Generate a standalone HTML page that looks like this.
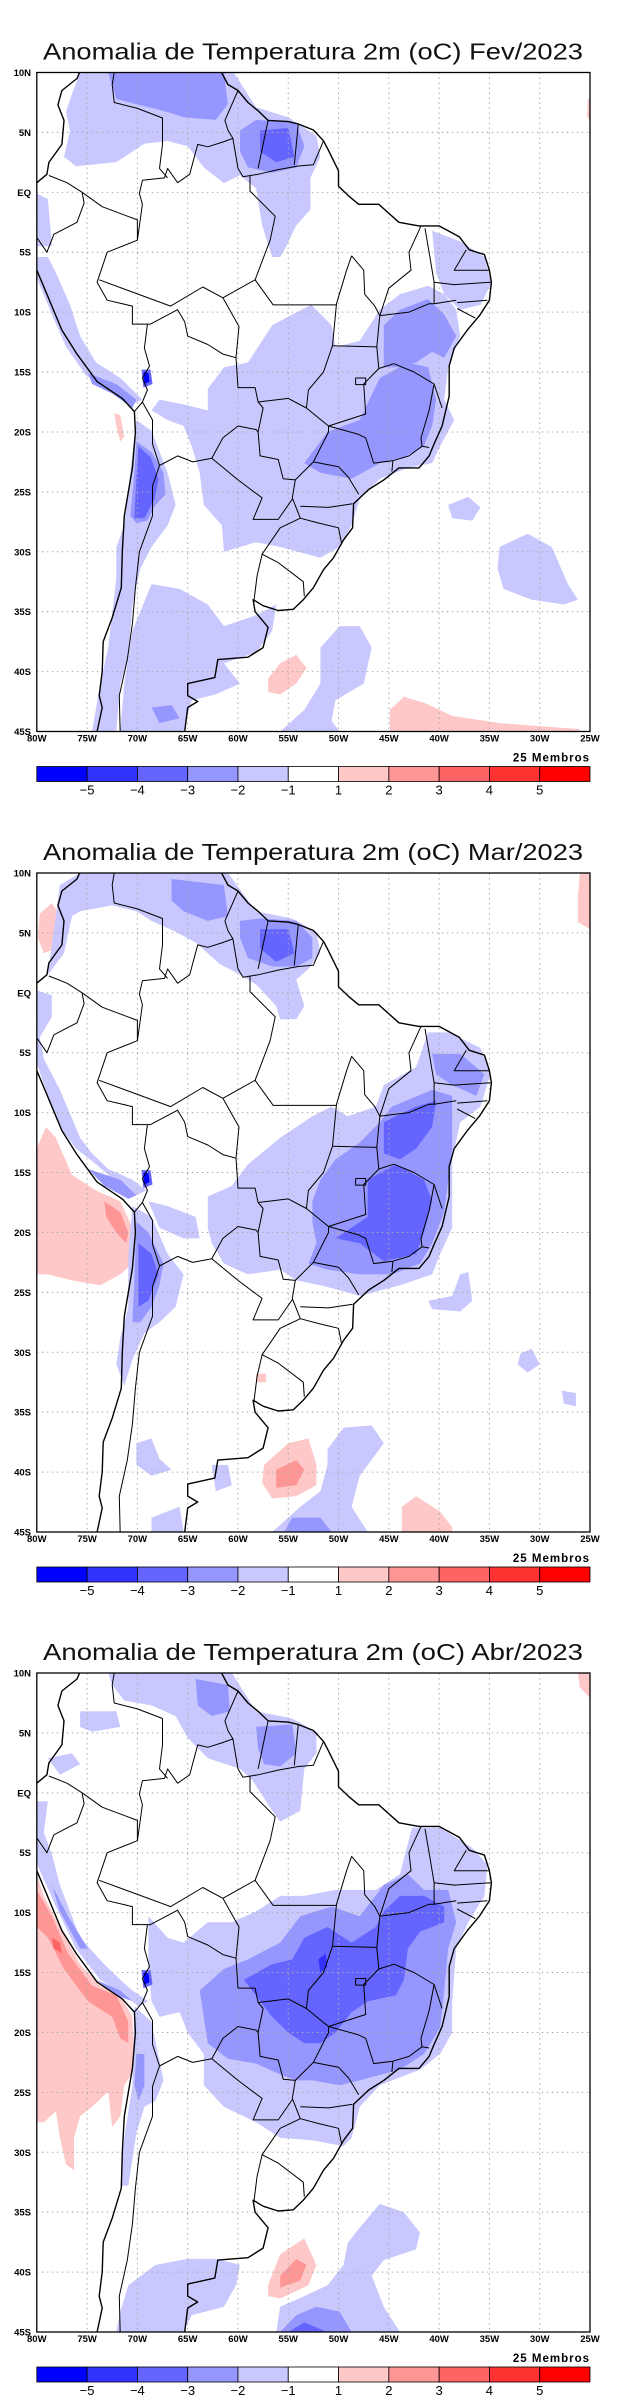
<!DOCTYPE html>
<html><head><meta charset="utf-8"><style>
html,body{margin:0;padding:0;background:#fff;}
svg{display:block;font-family:"Liberation Sans",sans-serif;}
</style></head><body>
<svg id="s" width="618" height="2400" viewBox="0 0 618 2400" xmlns="http://www.w3.org/2000/svg"></svg>
<script>
// ---------- data (lon/lat) ----------
const panelTitles = ["Anomalia de Temperatura 2m (oC) Fev/2023","Anomalia de Temperatura 2m (oC) Mar/2023","Anomalia de Temperatura 2m (oC) Abr/2023"];
const latTicks = [10,5,0,-5,-10,-15,-20,-25,-30,-35,-40,-45];
const latLabels = ["10N","5N","EQ","5S","10S","15S","20S","25S","30S","35S","40S","45S"];
const lonTicks = [-80,-75,-70,-65,-60,-55,-50,-45,-40,-35,-30,-25];
const lonLabels = ["80W","75W","70W","65W","60W","55W","50W","45W","40W","35W","30W","25W"];
const levelColors = ["#0000ff","#3232ff","#6464ff","#9696ff","#c8c8ff","#ffffff","#ffc8c8","#ff9696","#ff6464","#ff3232","#ff0000"];
const levelLabels = ["-5","-4","-3","-2","-1","1","2","3","4","5"];

const coast = [[-77.5,8.5],[-76,9.5],[-75.5,10.5],[-72,11.8],[-71,11],[-68,10.6],[-64,10.6],[-62,10.6],[-61,9],[-60,8.5],[-59,7.5],[-58,6.8],[-57,6],[-55,5.9],[-54,5.7],[-52.5,5.2],[-51.5,4.3],[-51,3.5],[-50,1.8],[-50,0.5],[-49,-0.3],[-48,-1],[-46,-1],[-44,-2.5],[-42,-2.8],[-40,-2.8],[-38,-3.7],[-37,-4.8],[-35.5,-5.2],[-35,-6.5],[-34.8,-7.5],[-35,-9],[-36,-10.3],[-37.2,-11.5],[-38.5,-13],[-39,-14.5],[-39,-17],[-39.7,-19.5],[-40.5,-21],[-41,-22],[-42,-23],[-44,-23],[-45.5,-24],[-47,-24.8],[-48.5,-26],[-48.6,-28],[-49.5,-29],[-50.5,-30.5],[-51.5,-31.5],[-52.5,-33],[-53.5,-34],[-54.5,-34.8],[-56,-34.9],[-57.5,-34.5],[-58.5,-34],[-58.3,-35],[-57,-36.3],[-57.5,-38],[-59,-38.8],[-62,-39],[-62.3,-40.5],[-65,-41],[-65,-42],[-64,-42.5],[-65,-43],[-65.3,-45],[-66,-46],[-73.5,-46],[-74,-45],[-73.5,-43],[-73.8,-42],[-73.5,-40],[-73.4,-37.5],[-72.5,-35.5],[-71.6,-33],[-71.5,-30],[-71.3,-27],[-70.5,-23],[-70.2,-20],[-70.3,-18.3],[-71.5,-17.2],[-74,-15.8],[-76,-13.5],[-77.5,-11.5],[-79,-8.5],[-80,-6.5],[-81,-5],[-80.5,-3],[-80,-2],[-80.8,-1],[-80,0.8],[-79,1.5],[-78.8,2.5],[-77.5,4],[-77.3,6],[-77.9,7.3],[-77.5,8.5]];
const borders = [
 [[-51.5,4.3],[-52.5,2.3],[-54,2.2],[-56,1.9],[-58,1.5],[-59.5,1.3],[-60,2],[-60.5,4.5],[-61.5,4.2],[-63,3.8],[-64,4],[-64.8,1.5],[-66,0.8],[-67,2],[-67.3,1.2],[-69.5,1],[-69.8,-0.1],[-69.5,-1],[-70,-4],[-73,-5],[-74,-7.5],[-73,-9],[-70.5,-9.5],[-70.5,-11],[-69.5,-11],[-68.7,-11],[-66,-9.8],[-65.3,-10.8],[-65,-12],[-63,-12.7],[-61.5,-13.5],[-60.2,-13.8],[-60,-16.3],[-58.3,-16.3],[-58,-17.5],[-57.5,-18],[-58,-20],[-57.8,-22],[-56,-22.3],[-55.5,-23.9],[-54.3,-24],[-54.6,-25.5],[-53.8,-27.2],[-55.8,-28],[-57.6,-30.2],[-56,-30.9],[-53.5,-32.5],[-53.4,-33.7]],
 [[-72,11.5],[-72.5,9],[-72.3,7.5],[-70,7],[-67.5,6.2],[-67.5,4],[-67.8,2],[-67,1.2]],
 [[-78.8,1.4],[-77,0.8],[-75.5,0],[-73.5,-1.2],[-70,-2.3],[-70,-4]],
 [[-80.3,-3.4],[-79,-5],[-78.3,-3.5],[-76,-2.5],[-75.3,-0.9],[-75.5,0]],
 [[-60,8.5],[-61.3,6],[-61,5.2],[-60.5,4.5]],[[-57,6],[-58,2]],[[-54,5.7],[-54.4,2.3]],
 [[-69,-11],[-69.3,-13],[-68.8,-14.5],[-69.5,-15.5],[-69,-16.5],[-69.5,-17.5],[-70.3,-18.3]],
 [[-69.5,-17.5],[-68.5,-19],[-68.5,-21],[-67.8,-22.8],[-66,-22],[-64.5,-22.5],[-62.6,-22.2],[-61.5,-20.5],[-60,-19.5],[-58.2,-19.8],[-58,-20]],
 [[-62.6,-22.2],[-60,-24],[-57.6,-25.5],[-58.5,-27.3],[-56,-27.3],[-54.6,-25.6]],
 [[-67.8,-22.8],[-68.5,-24.5],[-68.5,-27],[-69.8,-30],[-70.2,-33],[-70.5,-36],[-71,-39],[-71.8,-42],[-71.7,-45.5]],
 [[-57.6,-30.2],[-58.1,-32],[-58.4,-34]],
 [[-58.8,1.4],[-58.8,0.1],[-56.3,-2],[-56.8,-4],[-58.3,-7.3],[-61.5,-8.8],[-63.5,-7.9],[-66.7,-9.5],[-73.8,-7.3]],
 [[-58.3,-7.3],[-56.5,-9.4],[-50.2,-9.4]],
 [[-48.7,-5.3],[-49.2,-6.5],[-50.2,-9.3],[-50.6,-12.8],[-51.5,-15],[-53,-16.5],[-53.2,-18],[-51,-19.5]],
 [[-48.7,-5.3],[-47.5,-6.5],[-47.4,-8.5],[-46.4,-9.5],[-45.9,-10.3],[-46.2,-12.9],[-50.6,-12.8]],
 [[-41.8,-2.8],[-43,-5],[-42.8,-6.5],[-45,-8],[-45.9,-10.3]],
 [[-61.5,-8.8],[-59.9,-11.2],[-60.2,-13.8]],
 [[-58,-17.5],[-55,-17.2],[-53.2,-18]],
 [[-46.2,-12.9],[-46,-14.7],[-47.5,-16],[-47.3,-18.5],[-51,-19.5],[-51,-20],[-52.5,-22.5],[-54.3,-24]],
 [[-45.9,-10.3],[-43,-10],[-41,-9.3],[-40.5,-9.3]],[[-41.4,-3],[-41,-5],[-40.5,-7.5],[-40.5,-9.3],[-38.3,-9]],
 [[-37.3,-4.8],[-38.5,-6.5],[-35,-6.5]],[[-40.5,-7.5],[-38.5,-7.7],[-34.9,-7.5]],[[-38.2,-9.2],[-35.2,-9]],[[-38.2,-9.7],[-36.4,-10.5]],
 [[-46,-14.7],[-44.5,-14.3],[-42.5,-15],[-40.5,-16],[-39.7,-18]],[[-40.5,-16],[-41,-18.2],[-41.8,-20.5],[-41.7,-21.2],[-41,-21.3]],
 [[-41.7,-21.2],[-43,-22],[-44.6,-22.4],[-46.5,-22.6],[-47.3,-20.5],[-48,-20.2],[-51,-19.5]],[[-44.6,-22.4],[-44.7,-23.3]],
 [[-52.5,-22.5],[-50,-22.9],[-49,-23.8],[-48,-25.2]],[[-53.8,-26.2],[-51,-26.3],[-48.6,-26]],[[-53.8,-27.2],[-52,-27.6],[-50,-28],[-49.7,-29.3]],
 [[-48.3,-15.5],[-47.3,-15.5],[-47.3,-16.05],[-48.3,-16.05],[-48.3,-15.5]]
];
const bolDotOuter = [[-69.6,-14.8],[-68.7,-14.8],[-68.5,-16],[-69.4,-16.3]];
const bolDotInner = [[-69.4,-15.0],[-68.9,-15.0],[-68.8,-15.8],[-69.3,-16.0]];

// each contour: [levelIndex, [[lon,lat],...]]
const fev = [
 [4,[[-75.7,10],[-60.4,10],[-58.2,7.1],[-55,6.26],[-52.2,4.72],[-51.8,2.96],[-52.8,1.2],[-52.8,-1.44],[-54.2,-2.76],[-55.2,-4.52],[-55.8,-5.4],[-56.6,-5.4],[-57.6,-2.76],[-58.2,0.32],[-59.8,1.42],[-61.4,0.76],[-63.4,2.08],[-65,3.84],[-67,4.28],[-69.3,4.06],[-72.1,2.52],[-76.1,2.17],[-77.3,2.96],[-76.7,5.16],[-77.1,6.7],[-76.5,8.24]]],
 [4,[[-80,-5.4],[-80,-7.16],[-78.5,-10.2],[-77.1,-12.9],[-75.1,-15.3],[-72.5,-16.6],[-70.5,-17.7],[-69.5,-17.3],[-71.7,-15.5],[-74.1,-14.2],[-75.7,-12],[-76.7,-9.4],[-78.1,-6.7],[-78.9,-5.4]]],
 [4,[[-80,-0.1],[-78.9,-0.56],[-78.5,-4.5],[-80,-4.5]]],
 [4,[[-70.1,-19],[-68.6,-19.9],[-67,-23.4],[-66.2,-26.1],[-67,-27.8],[-68.6,-29.6],[-69.7,-31.4],[-70.5,-34.4],[-70.9,-38.8],[-71.7,-41],[-72.1,-45],[-74.5,-45],[-73.7,-41],[-72.9,-38],[-72.1,-32.2],[-72.1,-29.6],[-71.3,-27.8],[-70.7,-23.4]]],
 [4,[[-70.5,-36.6],[-68.6,-32.7],[-65.8,-33.1],[-63,-34.4],[-61.4,-36.2],[-58.2,-35.3],[-56.2,-34.4],[-56.6,-36.6],[-58.2,-38.4],[-61.4,-39.3],[-59.8,-41],[-62.2,-41.9],[-64.6,-42.4],[-65.4,-45],[-71.7,-45],[-71.3,-41]]],
 [4,[[-63,-16.4],[-61.4,-14.6],[-59,-14.2],[-56.6,-11.1],[-54.6,-10.2],[-52.7,-9.4],[-50.7,-11.1],[-50.3,-12.9],[-47.9,-12.4],[-45.9,-9.8],[-43.9,-8.5],[-41.1,-7.8],[-39.5,-8.5],[-38.3,-9.8],[-37.9,-12],[-39.1,-14.6],[-39.5,-17.3],[-38.5,-19],[-39.9,-21.2],[-40.7,-22.6],[-43.1,-23],[-45.9,-23.9],[-47.9,-25.6],[-48.7,-27.8],[-49.9,-29.6],[-51.8,-30.5],[-55.8,-29.6],[-58.2,-29.2],[-61.4,-30],[-61.6,-27.8],[-63.4,-26.1],[-63.8,-23.4],[-64.6,-21.2],[-65.4,-19.5],[-67,-19],[-68.6,-18.2],[-67.8,-17.3],[-65.4,-17.7],[-63,-18.2]]],
 [4,[[-40.7,-3.2],[-37.9,-4.1],[-35.5,-5.4],[-34.8,-7.6],[-35.9,-9.4],[-37.9,-9.8],[-39.5,-8.5],[-40.3,-6.7]]],
 [4,[[-39.1,-26.1],[-37.1,-25.4],[-35.9,-26.3],[-36.7,-27.4],[-38.7,-27.2]]],
 [4,[[-34,-29.6],[-31.2,-28.5],[-28.8,-29.6],[-27.2,-32.7],[-26.2,-34],[-27.6,-34.4],[-30.8,-34],[-33.6,-33.1],[-34.2,-31.4]]],
 [4,[[-51.8,-38],[-49.9,-36.2],[-47.9,-36.2],[-46.7,-38],[-47.5,-41],[-50.3,-42.4],[-50.7,-44.1],[-49.9,-45],[-55.8,-45],[-53.4,-43.2],[-51.8,-41]]],
 [3,[[-72.9,10],[-61.4,10],[-61,7.36],[-62.2,6.04],[-65.4,6.26],[-67,6.7],[-70.1,7.36],[-72.1,7.8]]],
 [3,[[-59.8,5.16],[-58.2,6.04],[-54.2,5.82],[-53.4,3.84],[-54.2,2.08],[-56.6,1.64],[-59,2.08],[-59.8,3.4]]],
 [3,[[-74.9,-15.1],[-72.1,-16],[-70.1,-17.3],[-70.5,-18],[-72.5,-16.8],[-74.5,-16]]],
 [3,[[-70.1,-20.8],[-68.6,-21.7],[-67.4,-23.4],[-67.2,-25.2],[-68.2,-26.1],[-69,-27.4],[-70.1,-27.6],[-70.7,-27],[-70.3,-23.4]]],
 [3,[[-68.6,-43],[-66.6,-42.8],[-65.8,-43.9],[-67.8,-44.3]]],
 [3,[[-51.1,-20],[-47.9,-19],[-45.9,-15.5],[-43.1,-14.2],[-41.1,-14.6],[-40.3,-17.3],[-40.7,-19.5],[-41.5,-21.2],[-43.5,-22.1],[-45.9,-22.6],[-48.7,-23.9],[-51.8,-23.4],[-53.4,-22.6]]],
 [3,[[-45.5,-11.1],[-43.9,-9.8],[-41.1,-8.9],[-39.5,-10.2],[-38.3,-12],[-39.5,-13.8],[-40.7,-13.3],[-42.3,-14.2],[-43.9,-14.6],[-45.5,-14.6]]],
 [2,[[-57.8,5.16],[-55,5.38],[-54.4,2.96],[-56.2,2.52],[-57.8,3.4]]],
 [2,[[-69.9,-21.2],[-68.7,-22.1],[-67.9,-23.9],[-68.3,-25.6],[-69.3,-27.2],[-70.3,-27.2],[-70.1,-23.9]]],
 [6,[[-57,-40.6],[-55.8,-39.3],[-54.2,-38.6],[-53.2,-39.7],[-54.2,-41],[-55.8,-41.9],[-57,-41.7]]],
 [6,[[-44.9,-43.2],[-43.5,-42.1],[-41.5,-42.6],[-38.7,-43.7],[-34,-44.3],[-26,-44.8],[-26,-45],[-44.9,-45]]],
 [6,[[-72.3,-18.4],[-71.7,-18.6],[-71.3,-20.4],[-71.7,-20.8],[-72.1,-19.5]]],
 [6,[[-25.2,7.8],[-25,7.8],[-25,6],[-25.3,6.3]]]
];
const mar = [
 [6,[[-80,-12.97],[-79.1,-11.2],[-78.1,-12.1],[-76.5,-15.2],[-74.1,-16.5],[-71.7,-17.4],[-70.5,-19.6],[-70.5,-22.6],[-71.7,-23.5],[-73.7,-24.4],[-76.5,-24],[-78.9,-23.5],[-80,-23.5]]],
 [7,[[-73.3,-17.4],[-71.7,-18.3],[-70.9,-20],[-71.1,-20.9],[-72.1,-20],[-73.1,-18.7]]],
 [6,[[-79.7,6.6],[-78.5,7.5],[-77.7,6.4],[-78.1,3.7],[-79.3,3.3],[-79.9,4.6]]],
 [6,[[-26.2,8.1],[-26,10],[-25,10],[-25,5.3],[-26.2,5.9]]],
 [6,[[-57.4,-39.4],[-55,-37.6],[-53,-37.2],[-52.2,-39.4],[-52.2,-41.1],[-54.2,-42],[-56.6,-42.2],[-57.6,-40.9]]],
 [7,[[-56.2,-39.8],[-54.2,-39],[-53.4,-39.8],[-54.2,-41.1],[-56.2,-41.3]]],
 [6,[[-43.7,-42.9],[-42.3,-42],[-39.9,-43.3],[-38.7,-44.6],[-38.7,-45],[-43.7,-45]]],
 [6,[[-58.2,-31.8],[-57.2,-31.8],[-57.2,-32.5],[-58.2,-32.5]]],
 [4,[[-75.7,10],[-61,10],[-58.2,6.8],[-54.6,6.2],[-52.2,5.1],[-51.8,3.3],[-53,2],[-54.2,1.1],[-53.4,-1.1],[-54.2,-2.2],[-55.8,-2.2],[-56.2,-1.1],[-58.2,0.7],[-59.8,1.5],[-61.8,2.4],[-64.2,4.2],[-66.2,5.1],[-68.6,6],[-70.1,6.8],[-72.5,7.3],[-75.7,6.8],[-76.5,6.4],[-77.3,3.3],[-78.1,2.4],[-78.9,1.5],[-77.7,9]]],
 [4,[[-80,-5.9],[-78.9,-8.6],[-77.7,-11.2],[-76.1,-13],[-74.1,-14.3],[-71.7,-16.1],[-70.1,-16.9],[-69.1,-16.5],[-70.5,-15.6],[-72.9,-14.7],[-74.5,-13.4],[-75.7,-12.1],[-77.7,-8.1],[-79.3,-5.5],[-79.7,-3.7],[-78.5,-2],[-78.5,-0.2],[-80,0.2]]],
 [4,[[-70.5,-17.8],[-68.6,-18.7],[-67,-21.8],[-65.4,-23.5],[-66.2,-26.2],[-67.8,-27.5],[-69.3,-28.4],[-70.5,-30.6],[-71.3,-32.8],[-72.1,-31],[-71.7,-28.8],[-70.9,-26.2],[-70.9,-21.8]]],
 [4,[[-63,-19.6],[-63,-17],[-60.6,-16.1],[-59,-14.3],[-55.8,-12.1],[-52.6,-10.3],[-50.7,-9.5],[-49.1,-10.3],[-46.3,-9.5],[-45.5,-7.7],[-42.3,-6.2],[-41.1,-3.3],[-39.1,-3.3],[-35.9,-4.6],[-34.9,-6.8],[-35.9,-9.5],[-37.9,-10.8],[-38.7,-13.9],[-38.7,-17.4],[-38.7,-19.6],[-39.9,-21.8],[-40.7,-23.5],[-43.9,-24.4],[-47.9,-25.3],[-49.5,-24.9],[-51.8,-24.4],[-54.2,-24],[-55.8,-23.1],[-59,-23.5],[-61.4,-22.6],[-62.6,-20.9]]],
 [4,[[-68.9,-17.4],[-67,-17.8],[-64.2,-18.7],[-63.8,-20.5],[-65.4,-20.5],[-67.8,-19.6]]],
 [4,[[-41.1,-25.7],[-38.7,-25.3],[-37.9,-23.5],[-37.1,-23.3],[-36.7,-25.7],[-37.9,-26.6],[-40.7,-26.4]]],
 [4,[[-31.9,-30.1],[-30.8,-29.7],[-30,-31],[-31.2,-31.7],[-32.2,-31]]],
 [4,[[-27.8,-33.2],[-26.4,-33.4],[-26.4,-34.5],[-27.6,-34.3]]],
 [4,[[-51.1,-38.1],[-49.5,-36.3],[-46.7,-36.1],[-45.5,-37.6],[-47.9,-40.3],[-48.7,-42.9],[-47.1,-45],[-56.6,-45],[-53.8,-42.9],[-51.8,-41.6],[-51.1,-39.4]]],
 [4,[[-70.1,-37.6],[-68.6,-37.2],[-67.8,-38.9],[-66.6,-39.8],[-68.6,-40.3],[-70.1,-39.4]]],
 [4,[[-68.6,-43.8],[-65.8,-42.9],[-65.4,-45],[-68.6,-45]]],
 [4,[[-62.6,-39.4],[-61,-39.4],[-60.6,-41.1],[-62.2,-41.6]]],
 [3,[[-55.4,-45],[-54.6,-43.8],[-51.8,-43.8],[-50.7,-45]]],
 [3,[[-66.6,9.5],[-61.4,9],[-61,6.4],[-63,6],[-65.4,6.8],[-66.6,7.7]]],
 [3,[[-59.8,6],[-57.8,6.2],[-54.2,6],[-52.6,4.6],[-52.6,2.9],[-54.2,2.2],[-56.6,2.2],[-59,2.9],[-59.8,4.6]]],
 [3,[[-74.9,-14.7],[-71.7,-15.6],[-70.1,-16.9],[-70.9,-17.2],[-73.3,-16.1]]],
 [3,[[-70.1,-19.1],[-68.9,-20],[-67.4,-22.6],[-67.8,-24.4],[-68.6,-26.2],[-69.7,-27.5],[-70.5,-27.5],[-70.3,-24]]],
 [3,[[-52.6,-17.4],[-51.8,-15.6],[-50.3,-13.9],[-47.9,-12.5],[-45.9,-10.8],[-44.7,-9.5],[-40.7,-8.1],[-38.7,-8.6],[-38.7,-13],[-39.5,-18.3],[-40.7,-20.9],[-41.9,-22.6],[-44.7,-23.5],[-47.9,-23.5],[-51.1,-23.1],[-53,-22.6],[-52.2,-20.9],[-52.6,-19.1]]],
 [3,[[-40.7,-5.1],[-37.9,-5.1],[-35.5,-6.8],[-36.3,-8.6],[-38.7,-7.7],[-40.3,-6.8]]],
 [2,[[-57.8,5.3],[-55,5.3],[-54.4,3.3],[-56.2,2.6],[-57.8,3.7]]],
 [2,[[-69.9,-20.9],[-68.6,-21.8],[-67.9,-23.5],[-68.9,-25.7],[-69.9,-26.2]]],
 [2,[[-47.1,-15.6],[-44.3,-14.3],[-41.5,-15.6],[-40.7,-17.4],[-41.5,-20],[-42.3,-21.8],[-45.5,-22.4],[-47.9,-20.9],[-50.3,-20.5],[-47.1,-18.7]]],
 [2,[[-45.5,-10.8],[-42.3,-9.5],[-40.3,-9],[-40.7,-11.2],[-42.3,-13],[-43.9,-13.9],[-45.5,-13.4]]]
];
const abr = [
 [6,[[-80,-6.8],[-79.3,-8.6],[-77.7,-11.2],[-75.7,-14.3],[-73.7,-16.1],[-71.7,-16.9],[-70.5,-18.7],[-70.3,-23.1],[-71.3,-24.4],[-71.7,-27],[-72.5,-27.9],[-72.9,-24.9],[-74.5,-26.2],[-75.7,-27],[-76.3,-28.8],[-76.3,-31.5],[-77.1,-31],[-77.7,-28.8],[-78.1,-26.6],[-79.3,-27.5],[-80,-27.5]]],
 [7,[[-80,-8.1],[-78.5,-10.3],[-76.9,-13.4],[-74.5,-16.1],[-72.1,-16.9],[-70.9,-19.1],[-70.9,-20.9],[-71.7,-20.5],[-72.5,-18.7],[-74.9,-17.4],[-77.3,-14.7],[-78.9,-12.1],[-80,-11.2]]],
 [8,[[-78.5,-12.1],[-77.7,-12.5],[-77.5,-13.4],[-78.3,-13]]],
 [6,[[-26.2,10],[-25,10],[-25,7.9],[-26,8.8]]],
 [6,[[-57,-41.1],[-55.8,-38.5],[-53.4,-37.2],[-52.2,-39.4],[-53,-41.1],[-55.8,-42.2],[-57,-42]]],
 [7,[[-55.8,-40.3],[-54.2,-38.9],[-53.2,-39.4],[-53.8,-40.7],[-55.8,-41.3]]],
 [4,[[-72.9,10],[-60.6,10],[-58.2,6.8],[-54.6,6.2],[-52.2,5.1],[-52.2,3.3],[-53.4,2],[-53.8,-1.5],[-55.8,-2.4],[-56.6,-1.5],[-58.6,1.1],[-59.8,2],[-63,2.9],[-65,4.6],[-66.2,6.4],[-68.6,7.3],[-71.3,7.7],[-72.5,9]]],
 [4,[[-75.7,6.8],[-72.1,6.8],[-71.7,5.5],[-74.5,5.1],[-75.7,5.5]]],
 [4,[[-78.9,2.9],[-76.5,3.3],[-75.7,2.4],[-77.7,1.5]]],
 [4,[[-80,-0.7],[-80,-5.9],[-78.1,-9.5],[-76.1,-13],[-73.7,-15.6],[-71.3,-16.9],[-69.9,-17.8],[-68.9,-17.4],[-70.5,-16.5],[-71.7,-15.6],[-73.3,-14.3],[-75.7,-12.1],[-77.7,-7.7],[-78.5,-5.1],[-79.3,-3.3],[-78.9,-0.7]]],
 [4,[[-70.3,-17.8],[-68.6,-19.1],[-67.4,-24],[-68.2,-25.7],[-69.3,-26.2],[-70.1,-28.4],[-70.9,-32.8],[-71.7,-32.8],[-71.3,-28.8],[-70.5,-24.4]]],
 [4,[[-68.9,-10.3],[-67,-12.1],[-65.4,-12.5],[-63,-10.8],[-60.6,-10.8],[-58.2,-9.9],[-55.8,-8.6],[-53.4,-8.6],[-50.3,-8.1],[-46.3,-8.1],[-43.9,-6.8],[-42.7,-2.9],[-39.9,-2.9],[-36.7,-4.6],[-35.2,-6],[-35.5,-8.6],[-37.1,-10.8],[-38.3,-13],[-38.7,-17.4],[-38.7,-20],[-39.9,-21.8],[-41.9,-23.1],[-45.9,-24.4],[-47.9,-26.2],[-48.7,-28.8],[-49.5,-29.5],[-52.6,-29],[-55.8,-28.8],[-58.2,-27.5],[-61.4,-26.2],[-63.4,-24.4],[-63.4,-21.8],[-65,-20],[-65.8,-18.3],[-67.8,-18.7],[-68.6,-17.4],[-68.9,-14.3]]],
 [4,[[-48.3,-36.7],[-45.9,-34.3],[-43.5,-35],[-41.9,-36.7],[-42.3,-38.1],[-45.5,-39],[-46.7,-40.3],[-45.5,-42.9],[-43.9,-45],[-56.2,-45],[-55.8,-42.9],[-53.4,-42],[-51.1,-41.1],[-49.5,-39.4],[-49.1,-37.6]]],
 [4,[[-71.7,-43.3],[-70.9,-41.1],[-68.2,-39.4],[-65,-38.9],[-62.2,-38.9],[-59.8,-39.4],[-60.2,-41.1],[-61.4,-42.9],[-64.6,-43.6],[-65.4,-45],[-72.1,-45]]],
 [3,[[-64.2,9.5],[-61,9],[-60.8,6.8],[-62.6,6.4],[-64,7.3]]],
 [3,[[-58.2,5.5],[-54.6,5.7],[-54.2,3.3],[-55.8,2.2],[-57.4,2.4],[-58,3.7]]],
 [3,[[-78.5,-7.7],[-76.9,-10.3],[-74.9,-13],[-75.7,-13],[-77.7,-9.9]]],
 [3,[[-74.1,-15.6],[-71.7,-16.5],[-70.5,-17.4],[-72.1,-16.9]]],
 [3,[[-70.1,-21.8],[-69.3,-21.8],[-69.3,-24.4],[-69.9,-25.7],[-70.3,-24.4]]],
 [3,[[-63.8,-16.5],[-61.4,-14.7],[-59,-13.9],[-55.8,-12.5],[-53.8,-10.3],[-50.7,-9.5],[-47.9,-10.3],[-45.5,-7.7],[-43.1,-6.8],[-41.5,-8.1],[-39.1,-8.1],[-38.3,-10.8],[-39.1,-13],[-39.5,-16.5],[-39.9,-19.6],[-41.5,-21.8],[-43.9,-23.1],[-47.9,-24],[-49.9,-24.4],[-52.6,-24],[-54.2,-24],[-55.8,-23.5],[-58.2,-22.6],[-61,-22.2],[-63,-20.9]]],
 [3,[[-55.8,-45],[-54.2,-43.6],[-52.2,-42.9],[-49.9,-43.3],[-48.7,-45]]],
 [2,[[-59.4,-15.6],[-56.6,-14.3],[-54.6,-13.9],[-53.4,-12.1],[-51.1,-11.2],[-48.7,-12.5],[-46.3,-11.2],[-45.5,-9.9],[-43.9,-8.6],[-41.5,-8.6],[-39.5,-9.5],[-39.5,-10.8],[-41.9,-11.6],[-43.1,-13],[-43.5,-15.6],[-44.3,-16.9],[-47.1,-17.4],[-48.7,-18.3],[-50.3,-20],[-51.8,-20.9],[-53.4,-20.9],[-55,-20],[-56.6,-18.7],[-57.8,-17.4]]],
 [2,[[-55,-45],[-53.4,-44.2],[-51.1,-45]]],
 [1,[[-52,-13.9],[-51.3,-13.4],[-51.1,-14.5],[-51.8,-15]]]
];
const panelData = [fev, mar, abr];

// ---------- drawing ----------
const NS = "http://www.w3.org/2000/svg";
const svg = document.getElementById("s");
const PX0 = 36.8, PX1 = 590, PW = PX1 - PX0;
const PH = 659;
const panelTops = [72.5, 873, 1673];
function el(tag, attrs, parent) {
  const e = document.createElementNS(NS, tag);
  for (const k in attrs) e.setAttribute(k, attrs[k]);
  (parent || svg).appendChild(e);
  return e;
}
function xScale(lon) { return PX0 + (lon + 80) / 55 * PW; }
function yScale(lat, top) { return top + (10 - lat) / 55 * PH; }
function pts(arr, top) { return arr.map(p => xScale(p[0]).toFixed(1) + "," + yScale(p[1], top).toFixed(1)).join(" "); }

panelData.forEach((data, i) => {
  const top = panelTops[i];
  const g = el("g", {});
  
  
  const cp = el("clipPath", { id: "clip" + i }, g);
  el("rect", { x: PX0, y: top, width: PW, height: PH }, cp);

  const title = el("text", { x: 43, y: top - 13, "font-size": 23, textLength: 540, lengthAdjust: "spacingAndGlyphs", fill: "#111" }, g);
  title.textContent = panelTitles[i];
  
  

  const field = el("g", { "clip-path": "url(#clip" + i + ")" }, g);
  
  
  data.forEach(c => {
    const p = el("polygon", { points: pts(c[1], top), fill: levelColors[c[0]], stroke: "none" }, field);
    
    
  });
  const d1 = el("polygon", { points: pts(bolDotOuter, top), fill: levelColors[2] }, field);
  
  
  const d2 = el("polygon", { points: pts(bolDotInner, top), fill: levelColors[0] }, field);
  
  

  // grid
  const grid = el("g", { stroke: "#aaa", "stroke-width": 1, "stroke-dasharray": "1.5,3.5" }, g);
  
  
  lonTicks.slice(1, -1).forEach(l => el("line", { x1: xScale(l), x2: xScale(l), y1: top, y2: top + PH }, grid));
  latTicks.slice(1, -1).forEach(l => el("line", { x1: PX0, x2: PX1, y1: yScale(l, top), y2: yScale(l, top) }, grid));

  // coast & borders
  const geo = el("g", { "clip-path": "url(#clip" + i + ")", fill: "none", stroke: "#000", "stroke-linejoin": "round" }, g);
  
  
  el("polygon", { points: pts(coast, top), "stroke-width": 1.4 }, geo);
  borders.forEach(b => el("polyline", { points: pts(b, top), "stroke-width": 1 }, geo));
  el("rect", { x: PX0, y: top, width: PW, height: PH, fill: "none", stroke: "#000", "stroke-width": 1.3 }, g);

  // tick labels
  latTicks.forEach((l, k) => {
    const t = el("text", { x: 31, y: yScale(l, top) + 3.5, "font-size": 9.5, "font-weight": "bold", "text-anchor": "end" }, g);
    t.textContent = latLabels[k];
    
    
  });
  lonTicks.forEach((l, k) => {
    const t = el("text", { x: xScale(l), y: top + PH + 10, "font-size": 9.5, "font-weight": "bold", "text-anchor": "middle" }, g);
    t.textContent = lonLabels[k];
    
    
  });
  const mem = el("text", { x: PX1, y: top + PH + 30, "font-size": 11.5, "font-weight": "bold", "text-anchor": "end", "letter-spacing": 1 }, g);
  mem.textContent = "25 Membros";
  
  

  // colorbar
  const cb = el("g", {}, g);
  
  
  const bw = PW / levelColors.length, cy = top + PH + 35;
  levelColors.forEach((c, k) => {
    const r = el("rect", { x: PX0 + k * bw, y: cy, width: bw, height: 15, fill: c, stroke: "#000", "stroke-width": 0.8 }, cb);
    
    
  });
  levelLabels.forEach((lb, k) => {
    const t = el("text", { x: PX0 + (k + 1) * bw, y: cy + 28, "font-size": 13, "text-anchor": "middle" }, cb);
    t.textContent = lb.replace("-", "\u2212");
    
    
  });
});
</script>
</body></html>
